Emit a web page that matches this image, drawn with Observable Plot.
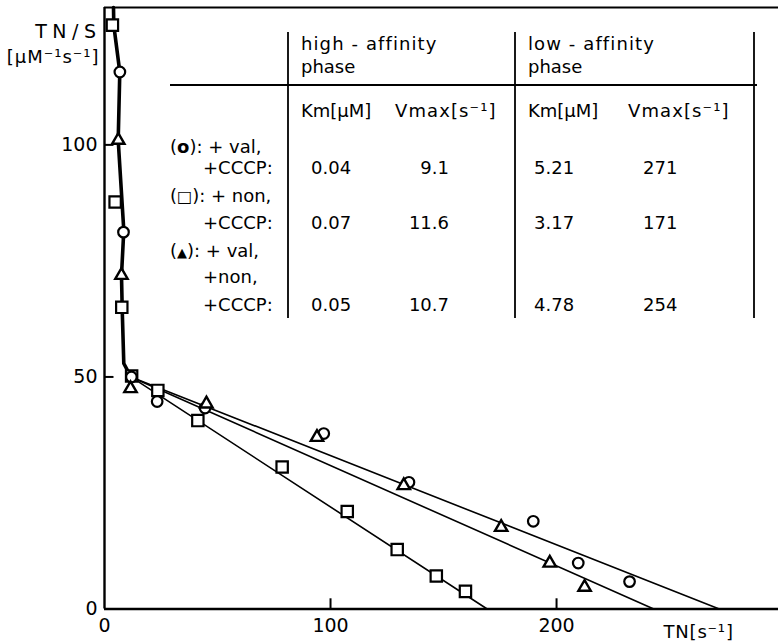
<!DOCTYPE html>
<html>
<head>
<meta charset="utf-8">
<script src="https://cdn.jsdelivr.net/npm/d3@7"></script>
<script src="https://cdn.jsdelivr.net/npm/@observablehq/plot@0.6"></script>
<style>
  html, body { margin: 0; padding: 0; background: #fff; }
  #chart svg { display: block; }
</style>
</head>
<body>
<div id="chart"></div>
<script>
// ---------- data ----------
// (o) + val, + CCCP
const valTN  = [6.8, 8.4, 11.9, 23.3, 44.5, 97.0, 134.7, 189.7, 209.6, 232.3];
const valTNS = [115.7, 81.2, 50.0, 44.7, 43.3, 37.8, 27.3, 18.9, 9.9, 5.9];
// (square) + non, + CCCP
const nonTN  = [3.5, 4.7, 7.65, 12.0, 23.6, 41.3, 78.6, 107.4, 129.5, 146.8, 159.7];
const nonTNS = [125.8, 87.7, 65.0, 50.2, 47.1, 40.6, 30.6, 21.0, 12.8, 7.1, 3.8];
// (triangle) + val, + non, + CCCP
const bothTN  = [6.1, 7.5, 11.5, 45.1, 94.0, 132.4, 175.5, 197.0, 212.4];
const bothTNS = [101.0, 71.9, 47.5, 44.2, 37.0, 26.6, 17.6, 9.9, 4.7];

// high-affinity phase curve (steep, drawn thick)
const highTN  = [3.98, 4.12, 6.77, 6.06, 8.54, 7.52, 7.83, 8.54, 11.7];
const highTNS = [129.6, 125.7, 115.7, 101.0, 81.6, 71.9, 64.7, 52.9, 50.0];
// low-affinity phase fitted lines (start, x-intercept)
const valFitTN  = [11.7, 272.0], valFitTNS  = [50.0, 0];
const bothFitTN = [11.7, 243.0], bothFitTNS = [50.0, 0];
const nonFitTN  = [11.7, 169.3], nonFitTNS  = [50.0, 0];

// axes
const xTicks = [0, 100, 200];
const yTicks = [0, 50, 100];
const xMax = 298.2, yMax = 129.6;
const xLabel = "TN[s⁻¹]";
const yLabel1 = "TN/S";
const yLabel2 = "[μM⁻¹s⁻¹]";

// inset table
const phaseHeaders = ["high - affinity", "low - affinity"];
const phaseSub = "phase";
const paramHeaders = ["Km[μM]", "Vmax[s⁻¹]", "Km[μM]", "Vmax[s⁻¹]"];
const condSymbols = ["o", "□", "▲"];
const condLines = [[": + val,", "+CCCP:"], [": + non,", "+CCCP:"], [": + val,", "+non,", "+CCCP:"]];
const highKm   = [0.04, 0.07, 0.05];
const highVmax = [9.1, 11.6, 10.7];
const lowKm    = [5.21, 3.17, 4.78];
const lowVmax  = [271, 171, 254];

// ---------- build tables for the library ----------
const zip = (xs, ys) => xs.map((x, i) => ({x, y: ys[i]}));
const valPts = zip(valTN, valTNS), nonPts = zip(nonTN, nonTNS), bothPts = zip(bothTN, bothTNS);

const plot = Plot.plot({
  width: 778,
  height: 642,
  marginLeft: 104,
  marginRight: 0,
  marginTop: 7,
  marginBottom: 33.5,
  x: {domain: [0, xMax]},
  y: {domain: [0, yMax]},
  style: {fontFamily: "DejaVu Sans", fontSize: "19px", background: "#fff", color: "#000"},
  marks: [
    // frame: top border, axes lines
    Plot.ruleY([yMax], {stroke: "#000", strokeWidth: 2.2}),
    Plot.ruleX([0], {stroke: "#000", strokeWidth: 2.4}),
    Plot.ruleY([0], {stroke: "#000", strokeWidth: 2.4}),
    // inward ticks
    Plot.ruleX(xTicks.slice(1), {y1: 0, y2: 2.2, stroke: "#000", strokeWidth: 2}),
    Plot.ruleY(yTicks.slice(1), {x1: 0, x2: 4.2, stroke: "#000", strokeWidth: 2}),
    Plot.axisX(xTicks, {tickSize: 0, tickPadding: 9, label: null, fontSize: 19}),
    Plot.axisY(yTicks, {tickSize: 0, tickPadding: 7, label: null, fontSize: 19}),
    // fitted lines
    Plot.line(zip(highTN, highTNS), {x: "x", y: "y", stroke: "#000", strokeWidth: 3.6, strokeLinejoin: "round"}),
    Plot.line(zip(valFitTN, valFitTNS), {x: "x", y: "y", stroke: "#000", strokeWidth: 1.6}),
    Plot.line(zip(bothFitTN, bothFitTNS), {x: "x", y: "y", stroke: "#000", strokeWidth: 1.6}),
    Plot.line(zip(nonFitTN, nonFitTNS), {x: "x", y: "y", stroke: "#000", strokeWidth: 1.6}),
    // data points
    Plot.dot(nonPts, {x: "x", y: "y", symbol: "square", r: 6.4, fill: "#fff", stroke: "#000", strokeWidth: 2.2}),
    Plot.dot(valPts, {x: "x", y: "y", symbol: "circle", r: 5.3, fill: "#fff", stroke: "#000", strokeWidth: 2.2}),
    Plot.dot(bothPts, {x: "x", y: "y", symbol: "triangle", r: 4.6, fill: "#fff", stroke: "#000", strokeWidth: 2.4}),
    // axis titles
    Plot.text([yLabel1], {frameAnchor: "top-left", dx: -3, dy: 30, textAnchor: "end", lineAnchor: "bottom", fontSize: 19}),
    Plot.text([yLabel2], {frameAnchor: "top-left", dx: -5, dy: 55, textAnchor: "end", lineAnchor: "bottom", fontSize: 18}),
    Plot.text([xLabel], {frameAnchor: "bottom-left", dx: 559, dy: 28.5, textAnchor: "start", lineAnchor: "bottom", fontSize: 18})
  ]
});

document.getElementById("chart").appendChild(plot);

const svg = d3.select(plot);
// spacing like the original lettering
svg.selectAll("text").each(function() {
  const s = this.textContent;
  if (s === yLabel1) d3.select(this).attr("letter-spacing", 5.5);
  if (s === yLabel2) d3.select(this).attr("letter-spacing", 1);
  if (s === xLabel) d3.select(this).attr("letter-spacing", 0.8);
});

// ---------- inset table (annotation) ----------
const g = svg.append("g")
  .attr("font-family", "DejaVu Sans")
  .attr("font-size", 18)
  .attr("text-anchor", "start")
  .attr("fill", "#000");

const ln = (x1, y1, x2, y2) => g.append("line")
  .attr("x1", x1).attr("y1", y1).attr("x2", x2).attr("y2", y2)
  .attr("stroke", "#000").attr("stroke-width", 1.8);

ln(170, 85, 757, 85);
[288, 515, 754].forEach(x => ln(x, 32, x, 318));

const txt = (s, x, y, anchor = "start") => g.append("text")
  .attr("x", x).attr("y", y).attr("text-anchor", anchor).text(s);

const colStart = [301, 528];
phaseHeaders.forEach((h, i) => {
  txt(h, colStart[i], 50).attr("letter-spacing", 1.1);
  txt(phaseSub, colStart[i], 73);
});
const paramX = [301, 395, 528, 628];
paramHeaders.forEach((h, i) => {
  const t = txt(h, paramX[i], 117);
  if (i % 2 === 1) t.attr("letter-spacing", 1.1);
});

const rowBase = [[153, 174], [202, 229], [257, 283, 311]];
condLines.forEach((lines, r) => {
  lines.forEach((s, j) => {
    const y = rowBase[r][j];
    if (j === 0) {
      const t = g.append("text").attr("x", 170).attr("y", y).attr("text-anchor", "start");
      t.append("tspan").text("(");
      t.append("tspan").attr("font-weight", "bold")
        .attr("font-size", r === 0 ? 18 : (r === 1 ? 16 : 13))
        .text(condSymbols[r]);
      t.append("tspan").text(")" + s);
    } else {
      txt(s, 203, y);
    }
  });
  const y = rowBase[r][lines.length - 1];
  txt(highKm[r].toFixed(2), 311, y);
  txt(highVmax[r].toFixed(1), 449, y, "end");
  txt(lowKm[r].toFixed(2), 534, y);
  txt(String(lowVmax[r]), 643, y);
});
</script>
</body>
</html>
